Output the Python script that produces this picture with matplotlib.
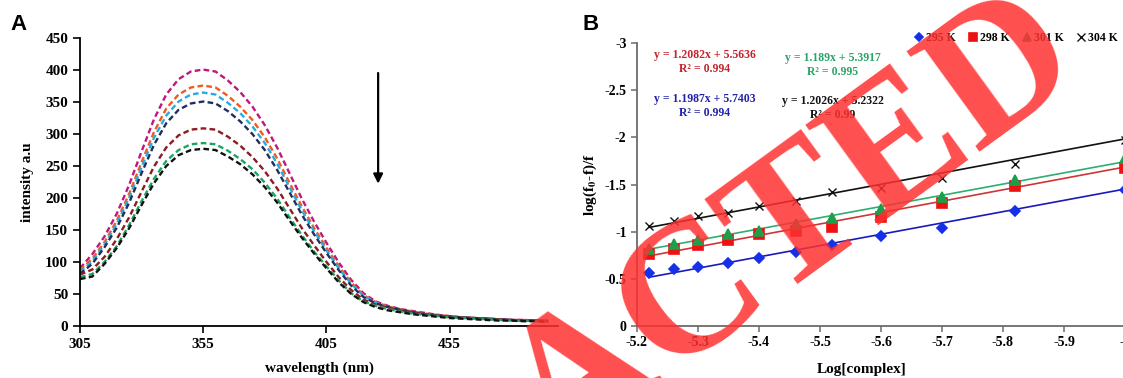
import matplotlib.pyplot as plt

plt.rcParams['font.family'] = 'Liberation Serif'
plt.rcParams['font.weight'] = 'bold'
plt.rcParams['mathtext.fontset'] = 'stix'
plt.rcParams['axes.unicode_minus'] = False

# ---- panel A: fluorescence emission spectra ----
wavelength = list(range(305, 500, 5))
spec_magenta = [90, 112, 140, 176, 221, 273, 323, 362, 386, 398, 401, 398, 384, 366, 343, 314, 279, 239, 199, 163,
                130, 99, 72, 51, 38, 31, 26, 23, 20, 17, 15, 13, 12, 11, 10, 9, 9, 8, 8]
spec_orange = [87, 105, 131, 165, 207, 256, 303, 340, 362, 373, 376, 373, 360, 343, 322, 295, 262, 224, 187, 153,
               122, 93, 68, 48, 37, 30, 26, 22, 19, 17, 15, 13, 12, 11, 10, 9, 9, 8, 8]
spec_cyan = [84, 101, 127, 160, 201, 248, 294, 329, 351, 362, 365, 362, 349, 333, 312, 286, 254, 217, 181, 148,
             118, 90, 66, 47, 36, 29, 25, 21, 18, 16, 14, 13, 12, 11, 10, 9, 8, 8, 7]
spec_navy = [81, 97, 123, 154, 193, 239, 283, 317, 338, 348, 351, 348, 336, 320, 300, 275, 244, 209, 174, 143,
             114, 87, 63, 45, 35, 29, 25, 21, 18, 16, 14, 13, 12, 11, 10, 9, 8, 8, 7]
spec_darkred = [80, 88, 108, 136, 170, 210, 249, 279, 298, 307, 309, 307, 296, 282, 264, 242, 215, 184, 153, 126,
                100, 76, 56, 41, 33, 28, 24, 21, 18, 16, 14, 13, 12, 11, 10, 9, 8, 8, 7]
spec_green = [76, 81, 100, 125, 158, 195, 230, 258, 275, 284, 286, 284, 274, 261, 245, 224, 199, 170, 142, 116,
              93, 71, 51, 38, 31, 26, 22, 19, 17, 15, 13, 12, 11, 10, 9, 8, 8, 7, 6]
spec_black = [73, 77, 97, 122, 153, 189, 223, 250, 267, 275, 277, 275, 265, 253, 237, 217, 193, 165, 138, 113,
              90, 68, 50, 37, 29, 24, 21, 18, 16, 14, 12, 11, 10, 9, 8, 8, 7, 7, 6]
spectra = [spec_magenta, spec_orange, spec_cyan, spec_navy, spec_darkred, spec_green, spec_black]
spec_colors = ['#c0177c', '#f05a22', '#29abe2', '#1f2f5e', '#8e1b22', '#1ba462', '#111111']

# ---- panel B: Stern-Volmer type plot at four temperatures ----
log_complex = [-5.22, -5.26, -5.30, -5.35, -5.40, -5.46, -5.52, -5.60, -5.70, -5.82, -6.00]
y_295 = [-0.56, -0.60, -0.63, -0.67, -0.72, -0.78, -0.86, -0.95, -1.04, -1.22, -1.44]
y_298 = [-0.76, -0.82, -0.86, -0.91, -0.97, -1.01, -1.05, -1.16, -1.30, -1.48, -1.68]
y_301 = [-0.82, -0.87, -0.91, -0.97, -1.01, -1.08, -1.15, -1.24, -1.37, -1.55, -1.78]
y_304 = [-1.06, -1.11, -1.17, -1.20, -1.27, -1.32, -1.42, -1.46, -1.57, -1.72, -1.97]
temps = ['295 K', '298 K', '301 K', '304 K']
slopes = [1.1987, 1.2082, 1.189, 1.2026]
intercepts = [5.7403, 5.5636, 5.3917, 5.2322]
r2 = ['0.994', '0.994', '0.995', '0.99']

W, H = 1123, 378
fig = plt.figure(figsize=(W / 100, H / 100), dpi=100)


def fx(px):
    return px / W


def fy(py):
    return 1 - py / H


# panel A
axA = fig.add_axes([fx(80), fy(325.7), fx(558) - fx(80), fy(38.3) - fy(325.7)])
for s, c in zip(spectra, spec_colors):
    axA.plot(wavelength, s, color=c, lw=1.7, ls=(0, (2.4, 1.4)))
axA.annotate('', xy=(426, 218), xytext=(426, 400),
             arrowprops=dict(arrowstyle='-|>', color='black', lw=1.6, mutation_scale=14))
axA.set_xlim(305, 499)
axA.set_ylim(0, 450)
axA.set_xticks([305, 355, 405, 455])
axA.set_yticks(range(0, 451, 50))
axA.spines[['top', 'right']].set_visible(False)
axA.spines[['left', 'bottom']].set_linewidth(1.3)
axA.tick_params(direction='out', length=5, width=1.2, labelsize=11)
axA.set_xlabel('wavelength (nm)', fontsize=11, fontweight='bold', labelpad=8)
axA.set_ylabel('intensity a.u', fontsize=11, fontweight='bold', labelpad=8)

# panel B
axB = fig.add_axes([fx(637), fy(326), fx(1125) - fx(637), fy(43) - fy(326)])
ys = [y_295, y_298, y_301, y_304]
mk = ['D', 's', '^', 'x']
mk_size = [5, 6.5, 6.5, 6]
mk_edge = [1.2, 1.2, 1.2, 1.0]
mk_col = ['#1530e8', '#ee1111', '#1e9e4a', '#111111']
line_col = ['#1a1ab8', '#d03434', '#2fae6e', '#111111']
for y, m, ms, mw, mc, lc, t, a, b in zip(ys, mk, mk_size, mk_edge, mk_col, line_col, temps, slopes, intercepts):
    x0, x1 = log_complex[0], log_complex[-1]
    axB.plot([x0, x1], [a * x0 + b, a * x1 + b], color=lc, lw=1.2, zorder=2)
    axB.plot(log_complex, y, ls='none', marker=m, ms=ms, color=mc, mew=mw, label=t, zorder=3, clip_on=False)
axB.set_xlim(-5.2, -6.0)
axB.set_ylim(0, -3)
axB.set_xticks([-5.2, -5.3, -5.4, -5.5, -5.6, -5.7, -5.8, -5.9, -6.0])
axB.set_xticklabels(['-5.2', '-5.3', '-5.4', '-5.5', '-5.6', '-5.7', '-5.8', '-5.9', '-6'])
axB.set_yticks([0, -0.5, -1, -1.5, -2, -2.5, -3])
axB.set_yticklabels(['0', '-0.5', '-1', '-1.5', '-2', '-2.5', '-3'])
axB.spines[['top', 'right']].set_visible(False)
axB.spines[['left', 'bottom']].set_color('#6b6b6b')
axB.spines[['left', 'bottom']].set_linewidth(1.3)
axB.tick_params(direction='out', length=4, width=1.1, color='#6b6b6b', labelsize=10)
axB.set_xlabel('Log[complex]', fontsize=11, fontweight='bold')
axB.xaxis.set_label_coords((862 - 637) / (1125 - 637), -0.13)
axB.set_ylabel(r'log(f$_\mathbf{0}$-f)/f', fontsize=11, fontweight='bold', labelpad=4)
axB.legend(loc='center left', bbox_to_anchor=(fx(910), fy(38)), bbox_transform=fig.transFigure,
           ncol=4, frameon=False, fontsize=8.5, handlelength=0.6, handletextpad=0.25,
           columnspacing=1.2, borderpad=0, markerscale=0.9)

eq_col = ['#2222aa', '#c4242c', '#2aa466', '#111111']
eq_pos = [(705, 106), (705, 62), (833, 65), (833, 108)]
for a, b, r, c, (px, py) in zip(slopes, intercepts, r2, eq_col, eq_pos):
    fig.text(fx(px), fy(py), f'y = {a}x + {b}\nR² = {r}', color=c, fontsize=8.5, fontweight='bold',
             ha='center', va='center', linespacing=1.3)

fig.text(fx(10), fy(25), 'A', family='Liberation Sans', fontsize=16, fontweight='bold', va='center')
fig.text(fx(582), fy(25), 'B', family='Liberation Sans', fontsize=16, fontweight='bold', va='center')

# retraction stamp across the figure
fig.text(fx(584), fy(381), 'RETRACTED', color='#ff3030', alpha=0.85, fontsize=135, fontweight='bold',
         rotation=36, ha='center', va='center', rotation_mode='anchor', zorder=10)

fig.savefig('out.png', dpi=100)
